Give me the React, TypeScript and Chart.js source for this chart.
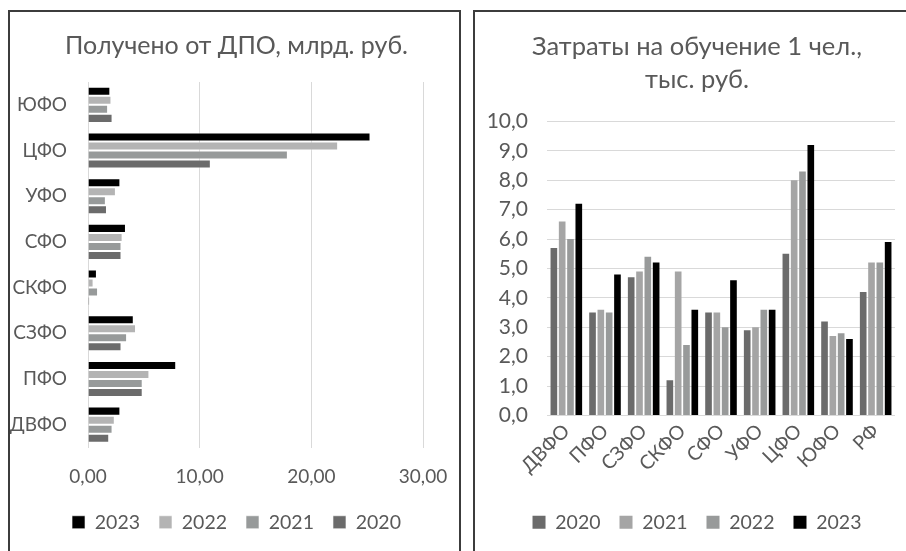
import React, { useEffect, useRef } from "react";
import { Chart, registerables } from "chart.js";

Chart.register(...registerables);

// Left chart: "Получено от ДПО, млрд. руб."
const LEFT_CATEGORIES = ["ЮФО", "ЦФО", "УФО", "СФО", "СКФО", "СЗФО", "ПФО", "ДВФО"];
const LEFT_2023 = [2.0, 25.3, 2.9, 3.4, 0.8, 4.1, 7.9, 2.9];
const LEFT_2022 = [2.1, 22.4, 2.5, 3.1, 0.5, 4.3, 5.5, 2.4];
const LEFT_2021 = [1.8, 17.9, 1.6, 3.0, 0.9, 3.5, 4.9, 2.2];
const LEFT_2020 = [2.2, 11.0, 1.7, 3.0, 0.15, 3.0, 4.9, 1.9];
const LEFT_TITLE = "Получено от ДПО, млрд. руб.";

// Right chart: "Затраты на обучение 1 чел., тыс. руб."
const RIGHT_CATEGORIES = ["ДВФО", "ПФО", "СЗФО", "СКФО", "СФО", "УФО", "ЦФО", "ЮФО", "РФ"];
const RIGHT_2020 = [5.7, 3.5, 4.7, 1.2, 3.5, 2.9, 5.5, 3.2, 4.2];
const RIGHT_2021 = [6.6, 3.6, 4.9, 4.9, 3.5, 3.0, 8.0, 2.7, 5.2];
const RIGHT_2022 = [6.0, 3.5, 5.4, 2.4, 3.0, 3.6, 8.3, 2.8, 5.2];
const RIGHT_2023 = [7.2, 4.8, 5.2, 3.6, 4.6, 3.6, 9.2, 2.6, 5.9];
const RIGHT_TITLE = ["Затраты на обучение 1 чел.,", "тыс. руб."];

const FONT = "Lato, 'Open Sans', sans-serif";
const TEXT = "#595959";
const GRID = "#d9d9d9";

function LeftChart() {
  const ref = useRef<HTMLCanvasElement | null>(null);
  useEffect(() => {
    if (!ref.current) return;
    const chart = new Chart(ref.current, {
      type: "bar",
      data: {
        labels: LEFT_CATEGORIES,
        datasets: [
          { label: "2023", data: LEFT_2023, backgroundColor: "#000000" },
          { label: "2022", data: LEFT_2022, backgroundColor: "#b4b4b4" },
          { label: "2021", data: LEFT_2021, backgroundColor: "#979a9a" },
          { label: "2020", data: LEFT_2020, backgroundColor: "#6b6b6b" },
        ],
      },
      options: {
        indexAxis: "y",
        responsive: false,
        animation: false,
        devicePixelRatio: 1,
        layout: { padding: { left: 0, right: 0, top: 0, bottom: 9 } },
        datasets: {
          bar: {
            categoryPercentage: 0.79,
            barPercentage: 1,
            borderWidth: 1,
            borderColor: "rgba(255,255,255,0.6)",
          },
        },
        plugins: {
          title: {
            display: true,
            text: LEFT_TITLE,
            color: TEXT,
            font: { family: FONT, size: 25, weight: "normal", lineHeight: 1.2 },
            padding: { top: 19, bottom: 21 },
          },
          legend: {
            display: true,
            position: "bottom",
            labels: {
              color: TEXT,
              font: { family: FONT, size: 19.5 },
              boxWidth: 13,
              boxHeight: 13,
              padding: 19,
            },
          },
          tooltip: { enabled: false },
        },
        scales: {
          x: {
            min: 0,
            max: 30,
            ticks: {
              stepSize: 10,
              color: TEXT,
              font: { family: FONT, size: 19 },
              padding: 18,
              callback: (v: any) => Number(v).toFixed(2).replace(".", ","),
            },
            grid: { color: GRID, drawTicks: false },
            border: { display: false },
            afterFit: (s: any) => {
              s.height = 46;
              s.paddingRight = 40;
            },
          },
          y: {
            ticks: {
              color: TEXT,
              font: { family: FONT, size: 19 },
              padding: 21,
            },
            grid: { display: false, drawTicks: false },
            border: { display: true, color: GRID },
            afterFit: (s: any) => {
              s.width = 78;
            },
          },
        },
      },
    });
    return () => chart.destroy();
  }, []);
  return (
    <canvas
      ref={ref}
      width={453}
      height={539}
      style={{ position: "absolute", left: 0, top: 0, width: 453, height: 539 }}
    />
  );
}

function RightChart() {
  const ref = useRef<HTMLCanvasElement | null>(null);
  useEffect(() => {
    if (!ref.current) return;
    const chart = new Chart(ref.current, {
      type: "bar",
      data: {
        labels: RIGHT_CATEGORIES,
        datasets: [
          { label: "2020", data: RIGHT_2020, backgroundColor: "#6b6b6b" },
          { label: "2021", data: RIGHT_2021, backgroundColor: "#a5a5a5" },
          { label: "2022", data: RIGHT_2022, backgroundColor: "#989a9a" },
          { label: "2023", data: RIGHT_2023, backgroundColor: "#000000" },
        ],
      },
      options: {
        responsive: false,
        animation: false,
        devicePixelRatio: 1,
        layout: { padding: { left: 0, right: 0, top: 0, bottom: 9 } },
        datasets: {
          bar: {
            categoryPercentage: 0.86,
            barPercentage: 0.8,
          },
        },
        plugins: {
          title: {
            display: true,
            text: RIGHT_TITLE,
            color: TEXT,
            font: { family: FONT, size: 25.5, weight: "normal", lineHeight: 1.294 },
            padding: { top: 18.5, bottom: 25 },
          },
          legend: {
            display: true,
            position: "bottom",
            labels: {
              color: TEXT,
              font: { family: FONT, size: 19.5 },
              boxWidth: 13,
              boxHeight: 13,
              padding: 19,
            },
          },
          tooltip: { enabled: false },
        },
        scales: {
          x: {
            ticks: {
              color: TEXT,
              font: { family: FONT, size: 19.5 },
              maxRotation: 45,
              minRotation: 45,
              padding: 4,
              autoSkip: false,
            },
            grid: { display: false, drawTicks: false },
            border: { display: false },
            afterFit: (s: any) => {
              s.height = 78;
              s.paddingRight = 24;
            },
          },
          y: {
            min: 0,
            max: 10,
            ticks: {
              stepSize: 1,
              color: TEXT,
              font: { family: FONT, size: 21 },
              padding: 19,
              callback: (v: any) => Number(v).toFixed(1).replace(".", ","),
            },
            grid: { color: GRID, drawTicks: false },
            border: { display: false },
            afterFit: (s: any) => {
              s.width = 72;
            },
          },
        },
      },
    });
    return () => chart.destroy();
  }, []);
  return (
    <canvas
      ref={ref}
      width={444}
      height={539}
      style={{ position: "absolute", left: 0, top: 0, width: 444, height: 539 }}
    />
  );
}

export default function App() {
  const panel: React.CSSProperties = {
    position: "fixed",
    top: 10,
    height: 560,
    border: "2px solid #3c3c3c",
    boxSizing: "border-box",
    background: "#ffffff",
    overflow: "hidden",
  };
  return (
    <div>
      <div style={{ ...panel, left: 8, width: 453 }}>
        <LeftChart />
      </div>
      <div style={{ ...panel, left: 473, width: 460 }}>
        <RightChart />
      </div>
    </div>
  );
}
